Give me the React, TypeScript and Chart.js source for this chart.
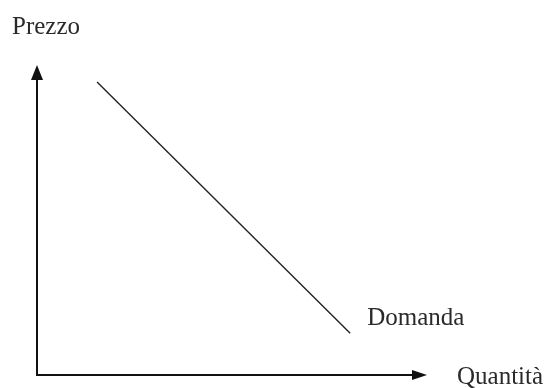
import React, { useEffect, useRef } from "react";
import { Chart, registerables } from "chart.js";

Chart.register(...registerables);

const demandX = [15.4, 80.3];
const demandY = [94.5, 13.5];
const yAxisTitle = "Prezzo";
const xAxisTitle = "Quantità";
const curveLabel = "Domanda";

const FONT = '25px "Liberation Serif", "Times New Roman", serif';

const axesPlugin = {
  id: "arrowAxes",
  afterDraw(chart: any) {
    const { ctx, chartArea } = chart;
    const { left, right, top, bottom } = chartArea;
    ctx.save();
    ctx.strokeStyle = "#111";
    ctx.fillStyle = "#111";
    ctx.lineWidth = 2;
    // y axis
    ctx.beginPath();
    ctx.moveTo(left, bottom);
    ctx.lineTo(left, top + 12);
    ctx.stroke();
    ctx.beginPath();
    ctx.moveTo(left, top);
    ctx.lineTo(left - 6, top + 15);
    ctx.lineTo(left + 6, top + 15);
    ctx.closePath();
    ctx.fill();
    // x axis
    ctx.beginPath();
    ctx.moveTo(left - 1, bottom);
    ctx.lineTo(right - 12, bottom);
    ctx.stroke();
    ctx.beginPath();
    ctx.moveTo(right, bottom);
    ctx.lineTo(right - 15, bottom - 5);
    ctx.lineTo(right - 15, bottom + 5);
    ctx.closePath();
    ctx.fill();

    // texts
    ctx.font = FONT;
    ctx.fillStyle = "#2a2a2a";
    ctx.textBaseline = "alphabetic";
    ctx.textAlign = "left";
    ctx.fillText(yAxisTitle, left - 25, top - 31);
    ctx.fillText(xAxisTitle, right + 30, bottom + 9);

    const meta = chart.getDatasetMeta(0);
    const last = meta.data[meta.data.length - 1];
    if (last) {
      ctx.fillText(curveLabel, last.x + 17, last.y - 8);
    }
    ctx.restore();
  },
};

export default function App() {
  const ref = useRef<HTMLCanvasElement | null>(null);
  useEffect(() => {
    document.body.style.margin = "0";
    if (!ref.current) return;
    const chart = new Chart(ref.current, {
      type: "scatter",
      data: {
        datasets: [
          {
            label: curveLabel,
            data: demandX.map((x, i) => ({ x, y: demandY[i] })),
            showLine: true,
            borderColor: "#222",
            borderWidth: 1.4,
            pointRadius: 0,
            fill: false,
          },
        ],
      },
      options: {
        animation: false,
        responsive: false,
        maintainAspectRatio: false,
        layout: { padding: { left: 37, right: 117, top: 65, bottom: 13 } },
        plugins: { legend: { display: false }, tooltip: { enabled: false } },
        scales: {
          x: { type: "linear", min: 0, max: 100, display: false },
          y: { type: "linear", min: 0, max: 100, display: false },
        },
      },
      plugins: [axesPlugin],
    });
    return () => chart.destroy();
  }, []);
  return (
    <div style={{ position: "fixed", left: 0, top: 0, width: 544, height: 388, background: "#fff" }}>
      <canvas ref={ref} width={544} height={388} style={{ width: 544, height: 388, display: "block" }} />
    </div>
  );
}
